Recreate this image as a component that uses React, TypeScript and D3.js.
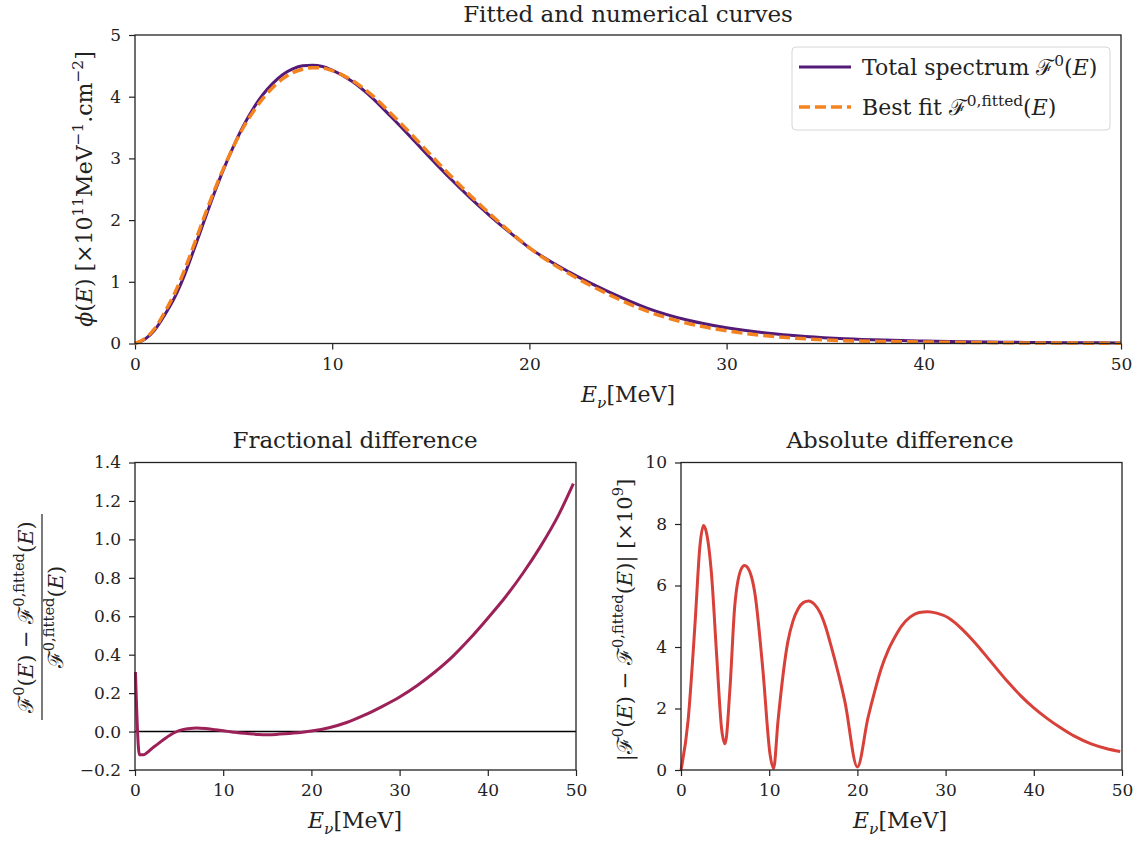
import * as d3 from "d3";
import { useEffect, useRef } from "react";

// top panel: spectrum and best fit, in units of 1e11 MeV^-1 cm^-2
const energy = [0, 0.5, 1, 1.5, 2, 2.5, 3, 3.5, 4, 4.5, 5, 5.5, 6, 6.5, 7, 7.5, 8, 8.5, 9, 9.5, 10, 11, 12, 13, 14, 15, 16, 17, 18, 19, 20, 22, 24, 26, 28, 30, 32, 34, 36, 38, 40, 42, 44, 46, 48, 50];
const spectrum = [0, 0.07, 0.22, 0.46, 0.74, 1.1, 1.53, 1.98, 2.42, 2.83, 3.2, 3.53, 3.81, 4.04, 4.22, 4.36, 4.45, 4.5, 4.51, 4.49, 4.43, 4.25, 3.99, 3.67, 3.34, 3.0, 2.67, 2.36, 2.07, 1.8, 1.55, 1.16, 0.84, 0.57, 0.38, 0.255, 0.17, 0.115, 0.078, 0.055, 0.04, 0.03, 0.022, 0.016, 0.012, 0.009];
const bestFit = [0, 0.079, 0.243, 0.505, 0.808, 1.18, 1.606, 2.043, 2.459, 2.847, 3.195, 3.505, 3.761, 3.977, 4.154, 4.294, 4.389, 4.446, 4.469, 4.465, 4.422, 4.266, 4.029, 3.721, 3.395, 3.054, 2.719, 2.4, 2.099, 1.815, 1.551, 1.134, 0.798, 0.52, 0.329, 0.205, 0.125, 0.076, 0.046, 0.032, 0.025, 0.018, 0.012, 0.008, 0.006, 0.004];

// bottom left: fractional difference
const fracEnergy = [0.05, 0.5, 1, 1.5, 2, 2.5, 3, 3.5, 4, 4.5, 5, 6, 7, 8, 9, 10, 11, 12, 13, 14, 15, 16, 17, 18, 19, 20, 22, 24, 26, 28, 30, 32, 34, 36, 38, 40, 42, 44, 46, 48, 49.7];
const fracDiff = [0.31, -0.12, -0.12, -0.105, -0.085, -0.068, -0.05, -0.033, -0.018, -0.005, 0.005, 0.015, 0.019, 0.016, 0.01, 0.004, -0.002, -0.008, -0.012, -0.015, -0.016, -0.015, -0.012, -0.008, -0.003, 0.003, 0.02, 0.047, 0.085, 0.13, 0.18, 0.24, 0.31, 0.39, 0.485, 0.59, 0.7, 0.825, 0.965, 1.125, 1.29];

// bottom right: absolute difference, x 1e9
const absEnergy = [0, 0.8, 1.6, 2.15, 2.55, 2.9, 3.45, 4.05, 4.6, 5.0, 5.55, 6.1, 6.85, 7.2, 7.5, 8.4, 9.3, 10.1, 10.5, 11.0, 12.1, 12.7, 13.3, 13.9, 14.5, 15.1, 15.8, 16.4, 17.0, 18.6, 20.0, 21.2, 22.0, 22.7, 23.5, 24.3, 25.0, 26.0, 27.0, 28.0, 29.0, 30.3, 31.8, 33.3, 35.2, 37.1, 38.5, 40.0, 41.5, 43.0, 44.6, 46.5, 48.2, 49.8];
const absDiff = [0, 1.6, 4.8, 7.3, 7.95, 7.7, 6.4, 3.7, 1.35, 0.85, 2.65, 5.35, 6.55, 6.65, 6.6, 5.7, 3.2, 0.5, 0.05, 1.6, 4.15, 4.85, 5.25, 5.45, 5.5, 5.4, 5.1, 4.65, 4.05, 2.2, 0.1, 1.7, 2.6, 3.3, 3.9, 4.35, 4.68, 4.98, 5.12, 5.15, 5.1, 4.95, 4.6, 4.15, 3.5, 2.85, 2.42, 2.02, 1.68, 1.38, 1.1, 0.85, 0.7, 0.6];

const font = "'DejaVu Serif', serif";

type Part = { t: string; i?: boolean; sup?: boolean; sub?: boolean };

// append a run of tspans with super/subscripts to a text node
function mathText(sel: any, parts: Part[], size: number) {
  let shift = 0;
  parts.forEach(p => {
    const target = p.sup ? -0.42 * size : p.sub ? 0.28 * size : 0;
    const ts = sel.append("tspan").text(p.t).attr("dy", target - shift);
    if (p.i) ts.attr("font-style", "italic");
    if (p.sup || p.sub) ts.attr("font-size", size * 0.7);
    shift = target;
  });
}

const Fsym = "ℱ";
const fitted: Part[] = [{ t: Fsym }, { t: "0,fitted", sup: true }, { t: "(" }, { t: "E", i: true }, { t: ")" }];
const total: Part[] = [{ t: Fsym }, { t: "0", sup: true }, { t: "(" }, { t: "E", i: true }, { t: ")" }];
const eLabel: Part[] = [{ t: "E", i: true }, { t: "ν", i: true, sub: true }, { t: "[MeV]" }];

export default function App() {
  const ref = useRef<SVGSVGElement>(null);

  useEffect(() => {
    const svg = d3.select(ref.current);
    svg.selectAll("*").remove();
    svg.append("rect").attr("width", 1148).attr("height", 842).attr("fill", "#fff");

    const tickSize = 17;

    function panel(xr: number[], yr: number[], yDomain: number[], yTicks: number, yFmt: any) {
      const x = d3.scaleLinear().domain([0, 50]).range(xr);
      const y = d3.scaleLinear().domain(yDomain).range(yr);
      const g = svg.append("g").attr("font-family", font);
      g.append("g")
        .attr("transform", `translate(0,${yr[0]})`)
        .call(d3.axisBottom(x).ticks(5).tickSize(6).tickPadding(8))
        .call((a: any) => a.select(".domain").remove());
      g.append("g")
        .attr("transform", `translate(${xr[0]},0)`)
        .call(d3.axisLeft(y).ticks(yTicks).tickSize(6).tickPadding(8).tickFormat(yFmt))
        .call((a: any) => a.select(".domain").remove());
      g.selectAll(".tick text").attr("font-size", tickSize).attr("font-family", font).attr("fill", "#222");
      g.selectAll(".tick line").attr("stroke", "#222").attr("stroke-width", 1.2);
      return { x, y, g };
    }

    function frame(xr: number[], yr: number[]) {
      svg.append("rect")
        .attr("x", xr[0]).attr("y", yr[1])
        .attr("width", xr[1] - xr[0]).attr("height", yr[0] - yr[1])
        .attr("fill", "none").attr("stroke", "#222").attr("stroke-width", 1.3);
    }

    function label(x: number, y: number, parts: Part[], size: number, rotate = false) {
      const t = svg.append("text")
        .attr("font-family", font).attr("font-size", size).attr("fill", "#222")
        .attr("text-anchor", "middle")
        .attr("transform", rotate ? `translate(${x},${y}) rotate(-90)` : `translate(${x},${y})`);
      mathText(t, parts, size);
      return t;
    }

    // ---- top panel
    const topX = [135, 1121], topY = [343.5, 35];
    const top = panel(topX, topY, [0, 5], 5, d3.format("d"));
    const lineTop = d3.line<number>().x((d, i) => top.x(energy[i])).y(d => top.y(d)).curve(d3.curveMonotoneX);
    svg.append("path").attr("d", lineTop(spectrum)).attr("fill", "none")
      .attr("stroke", "#541a78").attr("stroke-width", 3);
    svg.append("path").attr("d", lineTop(bestFit)).attr("fill", "none")
      .attr("stroke", "#f4821f").attr("stroke-width", 3.5).attr("stroke-dasharray", "11,5");
    frame(topX, topY);

    label(628, 22, [{ t: "Fitted and numerical curves" }], 23);
    label(628, 402, eLabel, 22);
    label(92, 189, [
      { t: "ϕ", i: true }, { t: "(" }, { t: "E", i: true }, { t: ") [×10" },
      { t: "11", sup: true }, { t: "MeV" }, { t: "−1", sup: true }, { t: ".cm" }, { t: "−2", sup: true }, { t: "]" },
    ], 22, true);

    // legend
    const lg = svg.append("g").attr("font-family", font);
    lg.append("rect").attr("x", 792).attr("y", 47).attr("width", 318).attr("height", 83).attr("rx", 4)
      .attr("fill", "#fff").attr("fill-opacity", 0.8).attr("stroke", "#d6d6d6");
    lg.append("line").attr("x1", 799).attr("x2", 851).attr("y1", 67).attr("y2", 67)
      .attr("stroke", "#541a78").attr("stroke-width", 3);
    lg.append("line").attr("x1", 799).attr("x2", 851).attr("y1", 107).attr("y2", 107)
      .attr("stroke", "#f4821f").attr("stroke-width", 3.5).attr("stroke-dasharray", "11,5");
    const t1 = lg.append("text").attr("x", 862).attr("y", 75).attr("font-size", 22).attr("fill", "#222");
    mathText(t1, [{ t: "Total spectrum " }, ...total], 22);
    const t2 = lg.append("text").attr("x", 862).attr("y", 115).attr("font-size", 22).attr("fill", "#222");
    mathText(t2, [{ t: "Best fit " }, ...fitted], 22);

    // ---- bottom left
    const blX = [135, 576], blY = [770, 462.5];
    const bl = panel(blX, blY, [-0.2, 1.4], 8, d3.format(".1f"));
    svg.append("line").attr("x1", blX[0]).attr("x2", blX[1])
      .attr("y1", bl.y(0)).attr("y2", bl.y(0)).attr("stroke", "#000").attr("stroke-width", 1.5);
    const lineFrac = d3.line<number>().x((d, i) => bl.x(fracEnergy[i])).y(d => bl.y(d)).curve(d3.curveMonotoneX);
    svg.append("path").attr("d", lineFrac(fracDiff)).attr("fill", "none")
      .attr("stroke", "#9c2159").attr("stroke-width", 3);
    frame(blX, blY);
    label(355, 448, [{ t: "Fractional difference" }], 23);
    label(355, 828, eLabel, 22);

    const fr = svg.append("g").attr("transform", "translate(42,617) rotate(-90)").attr("font-family", font);
    const num = fr.append("text").attr("text-anchor", "middle").attr("y", -9).attr("font-size", 21).attr("fill", "#222");
    mathText(num, [...total, { t: " − " }, ...fitted], 21);
    const den = fr.append("text").attr("text-anchor", "middle").attr("y", 21).attr("font-size", 21).attr("fill", "#222");
    mathText(den, fitted, 21);
    fr.append("line").attr("x1", -103).attr("x2", 103).attr("y1", 0).attr("y2", 0)
      .attr("stroke", "#222").attr("stroke-width", 1.2);

    // ---- bottom right
    const brX = [681, 1122], brY = [770, 462.5];
    const br = panel(brX, brY, [0, 10], 5, d3.format("d"));
    const lineAbs = d3.line<number>().x((d, i) => br.x(absEnergy[i])).y(d => br.y(d)).curve(d3.curveMonotoneX);
    svg.append("path").attr("d", lineAbs(absDiff)).attr("fill", "none")
      .attr("stroke", "#d8403a").attr("stroke-width", 3);
    frame(brX, brY);
    label(900, 448, [{ t: "Absolute difference" }], 23);
    label(900, 828, eLabel, 22);
    label(632, 620, [{ t: "|" }, ...total, { t: " − " }, ...fitted, { t: "| [×10" }, { t: "9", sup: true }, { t: "]" }], 21, true);
  }, []);

  return (
    <svg ref={ref} width={1148} height={842}
      style={{ position: "absolute", left: 0, top: 0, display: "block" }} />
  );
}
